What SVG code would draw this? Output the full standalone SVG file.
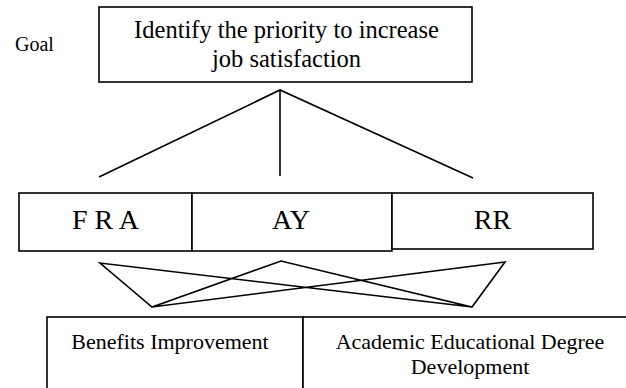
<svg xmlns="http://www.w3.org/2000/svg" width="626" height="388" viewBox="0 0 626 388">
  <style>
    .box { fill: #fff; stroke: #000; stroke-width: 1.6; }
    .ln { fill: none; stroke: #000; stroke-width: 1.6; stroke-linejoin: miter; }
    text { font-family: "Liberation Serif", "Times New Roman", serif; fill: #000; }
    .goal { font-size: 20px; }
    .top { font-size: 24.5px; text-anchor: middle; }
    .mid { font-size: 28px; text-anchor: middle; }
    .bot { font-size: 22px; text-anchor: middle; }
  </style>
  <rect width="626" height="388" fill="#fff"/>

  <text class="goal" x="15" y="51">Goal</text>

  <g id="goal-node">
    <rect class="box" x="99" y="7" width="373" height="75"/>
    <text class="top" x="286.5" y="38">Identify the priority to increase</text>
    <text class="top" x="286.5" y="67">job satisfaction</text>
  </g>

  <g id="connectors">
    <polyline class="ln" points="99,177 280,90 473,178"/>
    <line class="ln" x1="280" y1="90" x2="280" y2="176"/>
    <polygon class="ln" points="100,263 152,307 281,261 472,307 505,262 152,307 100,263 472,307"/>
  </g>

  <g id="fra">
    <rect class="box" x="19" y="193" width="173" height="58"/>
    <text class="mid" x="105.5" y="229">F R A</text>
  </g>
  <g id="ay">
    <rect class="box" x="192" y="193" width="200" height="58"/>
    <text class="mid" x="291" y="229">AY</text>
  </g>
  <g id="rr">
    <rect class="box" x="392" y="193" width="201" height="56"/>
    <text class="mid" x="492.5" y="229">RR</text>
  </g>

  <g id="benefits">
    <rect class="box" x="47" y="317" width="256" height="90"/>
    <text class="bot" x="170" y="349">Benefits Improvement</text>
  </g>
  <g id="degree">
    <rect class="box" x="303" y="317" width="340" height="90"/>
    <text class="bot" x="470" y="349">Academic Educational Degree</text>
    <text class="bot" x="470" y="374">Development</text>
  </g>
</svg>
